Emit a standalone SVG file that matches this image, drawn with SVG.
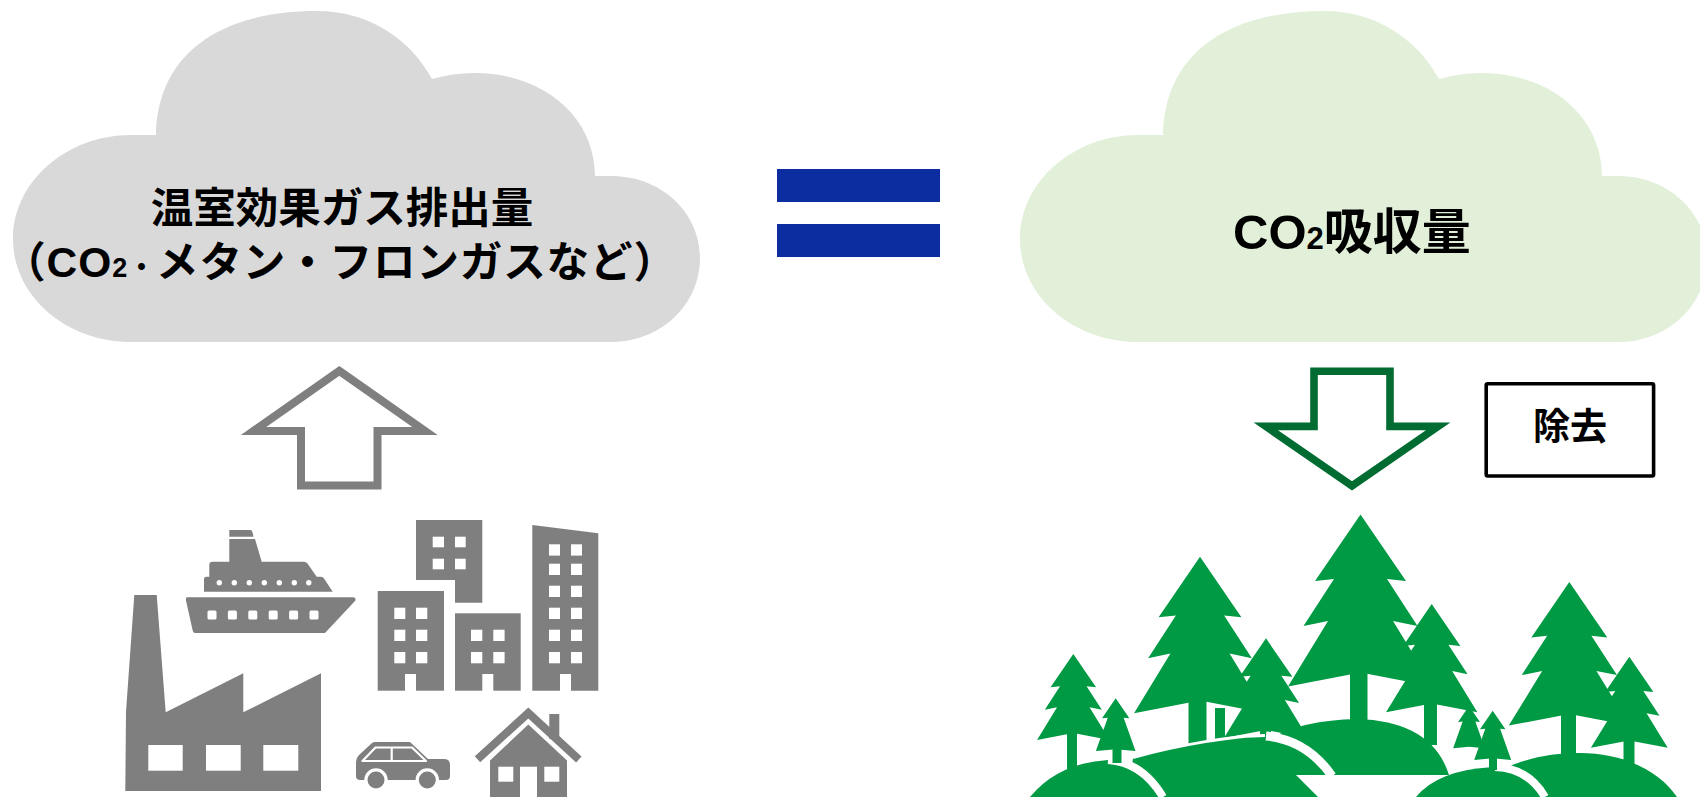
<svg xmlns="http://www.w3.org/2000/svg" xmlns:xlink="http://www.w3.org/1999/xlink" width="1700" height="797" viewBox="0 0 1700 797">
  <style>
    .label { font-family: "Liberation Sans", "Noto Sans CJK JP", sans-serif; font-weight: 700; fill: #000; }
    .gray { fill: #7f7f7f; }
    .hole { fill: #ffffff; }
    .tree { fill: #009944; }
    .gap { fill: none; stroke: #ffffff; }
  </style>
  <defs>
    <!-- cloud outline, reused for both clouds -->
    <path id="cloud-shape" d="M156,135 C158,50 225,11 317,11 C372,11 412,42 432,79 C446,75 460,73 474,73 C545,73 595,118 595,176 L611,176 C662,176 700,213 700,258 C700,304 662,342 611,342 L131,342 C66,342 13,296 13,239 C13,182 66,135 131,135 Z"/>
    <!-- three-tier pine, apex at origin -->
    <path id="pine3" d="M0,0 L45.5,66.5 L26.5,64.5 L57,111.5 L32.5,106.5 L72.5,172 L0,158 L-72.5,172 L-32.5,106.5 L-57,111.5 L-26.5,64.5 L-45.5,66.5 Z"/>
    <!-- two-tier pine, apex at origin -->
    <path id="pine2" d="M0,0 L45.5,66.5 L26.5,64.5 L66,176 L0,170 L-66,176 L-26.5,64.5 L-45.5,66.5 Z"/>
  </defs>

  <rect width="1700" height="797" fill="#ffffff"/>

  <!-- emissions cloud -->
  <g id="emissions-cloud">
    <use xlink:href="#cloud-shape" fill="#d9d9d9"/>
    <text class="label" x="342" y="222.5" font-size="42.5" text-anchor="middle">温室効果ガス排出量</text>
    <text class="label" x="340" y="277" font-size="42.5" letter-spacing="0.9" text-anchor="middle">（CO<tspan font-size="27">2・</tspan>メタン・フロンガスなど）</text>
  </g>

  <!-- equals sign -->
  <g id="equals">
    <rect x="777" y="169" width="163" height="33" fill="#0c2d9f"/>
    <rect x="777" y="224" width="163" height="33" fill="#0c2d9f"/>
  </g>

  <!-- absorption cloud -->
  <g id="absorption-cloud">
    <use xlink:href="#cloud-shape" transform="translate(1007,0)" fill="#e2f0d9"/>
    <text class="label" x="1352" y="249" font-size="49" text-anchor="middle">CO<tspan font-size="31">2</tspan>吸収量</text>
  </g>

  <!-- connectors: block arrows -->
  <g id="connectors">
    <polygon id="arrow-up" points="339.3,370.9 425,430.9 377.5,430.9 377.5,485.5 301,485.5 301,430.9 253.6,430.9" fill="#ffffff" stroke="#7f7f7f" stroke-width="8" stroke-linejoin="miter"/>
    <polygon id="arrow-down" points="1314,371.3 1390,371.3 1390,426.4 1438.2,426.4 1352,485.9 1265.8,426.4 1314,426.4" fill="#ffffff" stroke="#006c31" stroke-width="7.6" stroke-linejoin="miter"/>
  </g>

  <!-- removal label -->
  <g id="removal">
    <rect x="1486.2" y="383.7" width="167.4" height="92.3" rx="1.5" fill="#ffffff" stroke="#000000" stroke-width="3.6"/>
    <text class="label" x="1570" y="440" font-size="37" text-anchor="middle">除去</text>
  </g>

  <!-- emission sources -->
  <g id="sources">
    <!-- factory -->
    <g id="factory">
      <polygon class="gray" points="134.3,595 156.7,595 165.7,712.3 243.3,673.3 243.3,712.3 321,673.3 321,791 125.3,791 126,711.7"/>
      <rect class="hole" x="148.3" y="745" width="34.4" height="25.7"/>
      <rect class="hole" x="206" y="745" width="34.7" height="25.7"/>
      <rect class="hole" x="263.3" y="745" width="35" height="25.7"/>
    </g>
    <!-- ship -->
    <g id="ship">
      <path class="gray" d="M229.3,530 L250.7,530 Q252,530 252.7,533 L253.5,536.7 L229.3,536.7 Z"/>
      <path class="gray" d="M229.3,539 L255,539 L261.7,561.7 L304,561.7 Q306,561.7 307.5,563.5 L316.7,576.7 L321,576.7 Q323,576.7 324,578.5 L332.7,591.7 L204,591.7 L204,579 Q204,576.7 206.5,576.7 L209.3,576.7 L209.3,565 Q209.3,561.7 212.5,561.7 L229.3,561.7 Z"/>
      <g class="hole">
        <circle cx="219.3" cy="582.7" r="2.7"/>
        <circle cx="234.3" cy="582.7" r="2.7"/>
        <circle cx="249.3" cy="582.7" r="2.7"/>
        <circle cx="264.3" cy="582.7" r="2.7"/>
        <circle cx="279.3" cy="582.7" r="2.7"/>
        <circle cx="294.3" cy="582.7" r="2.7"/>
        <circle cx="308.8" cy="582.7" r="2.7"/>
      </g>
      <path class="gray" d="M187,597.3 L353,597.3 Q356.5,597.3 355.2,600.8 L325,633 L195,633 Q193.3,633 192.8,631 L186,600.6 Q185.6,597.3 187,597.3 Z"/>
      <g class="hole">
        <rect x="207.5" y="610.5" width="9" height="9" rx="1.5"/>
        <rect x="227.9" y="610.5" width="9" height="9" rx="1.5"/>
        <rect x="248.3" y="610.5" width="9" height="9" rx="1.5"/>
        <rect x="268.7" y="610.5" width="9" height="9" rx="1.5"/>
        <rect x="289.1" y="610.5" width="9" height="9" rx="1.5"/>
        <rect x="309.5" y="610.5" width="9" height="9" rx="1.5"/>
      </g>
    </g>
    <!-- office buildings -->
    <g id="buildings">
      <path class="gray" d="M416,520 L482.3,520 L482.3,602.7 L455,602.7 L455,580 L416,580 Z"/>
      <rect class="gray" x="377.7" y="591" width="66.3" height="99.7"/>
      <rect class="gray" x="455" y="613.3" width="65.7" height="77.4"/>
      <polygon class="gray" points="532.3,525 598.3,533.3 598.3,690.7 532.3,690.7"/>
      <g class="hole">
        <rect x="432.7" y="536.7" width="11.3" height="10.6"/>
        <rect x="455" y="536.7" width="10.7" height="10.6"/>
        <rect x="432.7" y="558.7" width="11.3" height="10.6"/>
        <rect x="455" y="558.7" width="10.7" height="10.6"/>

        <rect x="394.3" y="607.7" width="11" height="11.3"/>
        <rect x="416" y="607.7" width="11.3" height="11.3"/>
        <rect x="394.3" y="629.7" width="11" height="11.3"/>
        <rect x="416" y="629.7" width="11.3" height="11.3"/>
        <rect x="394.3" y="652" width="11" height="11.3"/>
        <rect x="416" y="652" width="11.3" height="11.3"/>
        <rect x="405" y="674" width="11" height="17"/>

        <rect x="471" y="629.7" width="11.3" height="11.3"/>
        <rect x="493.3" y="629.7" width="11.3" height="11.3"/>
        <rect x="471" y="652" width="11.3" height="11.3"/>
        <rect x="493.3" y="652" width="11.3" height="11.3"/>
        <rect x="482.3" y="674" width="11" height="17"/>

        <rect x="549" y="544.3" width="11" height="11.3"/>
        <rect x="571" y="544.3" width="11" height="11.3"/>
        <rect x="549" y="563.7" width="11" height="11.3"/>
        <rect x="571" y="563.7" width="11" height="11.3"/>
        <rect x="549" y="585.7" width="11" height="11.3"/>
        <rect x="571" y="585.7" width="11" height="11.3"/>
        <rect x="549" y="607.7" width="11" height="11.3"/>
        <rect x="571" y="607.7" width="11" height="11.3"/>
        <rect x="549" y="629.7" width="11" height="11.3"/>
        <rect x="571" y="629.7" width="11" height="11.3"/>
        <rect x="549" y="652" width="11" height="11.3"/>
        <rect x="571" y="652" width="11" height="11.3"/>
        <rect x="560" y="674" width="11" height="17"/>
      </g>
    </g>
    <!-- car -->
    <g id="car">
      <path class="gray" d="M375,742 L410,742 L428,759 L444,759 Q450,759 450,765 L450,776 Q450,780 446,780 L360,780 Q356,780 356,776 L356,762 Q356,758 359,755 L372,743 Q373.5,742 375,742 Z"/>
      <path d="M362.5,761 L375.5,747.5 L412,747.5 L426,761 Z M391.7,747.5 L391.7,761" fill="none" stroke="#ffffff" stroke-width="2.2" stroke-linejoin="round"/>
      <circle cx="376" cy="780" r="11.7" fill="#ffffff"/>
      <circle cx="427.3" cy="780" r="11.7" fill="#ffffff"/>
      <circle class="gray" cx="376" cy="780" r="8.5"/>
      <circle class="gray" cx="427.3" cy="780" r="8.5"/>
    </g>
    <!-- house -->
    <g id="house">
      <rect class="gray" x="549.3" y="714" width="10" height="25"/>
      <polyline points="477.5,759.3 528.3,713 578.8,759.5" fill="none" stroke="#7f7f7f" stroke-width="8" stroke-linejoin="miter" stroke-linecap="butt"/>
      <path class="gray" d="M528.3,724.5 L567,760.5 L567,797 L490,797 L490,760.5 Z"/>
      <rect class="hole" x="498.3" y="766.7" width="15" height="15"/>
      <rect class="hole" x="544.3" y="766.7" width="15" height="15"/>
      <rect class="hole" x="520" y="766.7" width="17" height="31"/>
    </g>
  </g>

  <!-- forest -->
  <g id="forest">
    <!-- back row -->
    <use xlink:href="#pine3" class="tree" transform="translate(1360.5,514.5)"/>
    <rect class="tree" x="1350" y="668" width="17.5" height="70"/>
    <use xlink:href="#pine3" class="tree" transform="translate(1569.3,582) scale(0.835)"/>
    <rect class="tree" x="1561" y="710" width="15" height="50"/>
    <use xlink:href="#pine3" class="tree" transform="translate(1200,556.7) scale(0.91)"/>
    <rect class="tree" x="1188.5" y="698" width="18" height="52"/>
    <rect class="tree" x="1215" y="708" width="10" height="40"/>

    <!-- centre mound -->
    <path class="tree" d="M1236,775 Q1262,721 1357,719 Q1432,721 1449,775 Z"/>

    <!-- middle row -->
    <use xlink:href="#pine3" class="tree" transform="translate(1266,638.3) scale(0.58)"/>
    <rect class="tree" x="1260" y="720" width="11" height="25"/>
    <use xlink:href="#pine2" class="tree" transform="translate(1469,706) scale(0.24)"/>
    <use xlink:href="#pine3" class="tree" transform="translate(1431.7,604) scale(0.63)"/>
    <rect class="tree" x="1424" y="700" width="13" height="45"/>

    <!-- right mound -->
    <path class="tree" d="M1505,797 L1508,767 C1530,757 1555,753 1580,753 C1625,753 1660,772 1677,797 Z"/>
    <use xlink:href="#pine3" class="tree" transform="translate(1629.3,656.7) scale(0.53)"/>
    <rect class="tree" x="1623.5" y="740" width="11" height="32"/>

    <!-- left-centre mound -->
    <path class="tree" d="M1128,797 L1133,758 C1180,745 1235,736 1265,736 Q1305,740 1331,775 L1296,775 L1318,797 Z"/>
    <path class="gap" d="M1133,757.5 C1180,744.5 1235,735.5 1265,735.5" stroke-width="3"/>
    <path class="gap" d="M1266,736 Q1307,740 1332,776" stroke-width="9"/>

    <!-- lower right mound -->
    <path class="tree" d="M1416,797 Q1438,770 1493,767 Q1528,768 1545,797 Z"/>
    <path class="gap" d="M1495,767 Q1528,768 1545,797" stroke-width="8"/>
    <use xlink:href="#pine2" class="tree" transform="translate(1492.7,710.7) scale(0.28)"/>
    <rect class="tree" x="1489" y="755" width="8" height="15"/>

    <!-- front left mound -->
    <path class="tree" d="M1030,797 Q1058,763 1108,760 Q1142,762 1163,797 Z"/>
    <path class="gap" d="M1108,760 Q1142,762 1163,797" stroke-width="8"/>
    <use xlink:href="#pine3" class="tree" transform="translate(1073.3,654) scale(0.5)"/>
    <rect class="tree" x="1067" y="733" width="10" height="36"/>
    <use xlink:href="#pine2" class="tree" transform="translate(1115.7,698.3) scale(0.3)"/>
    <rect class="tree" x="1112.5" y="748" width="9" height="15"/>
  </g>
</svg>
